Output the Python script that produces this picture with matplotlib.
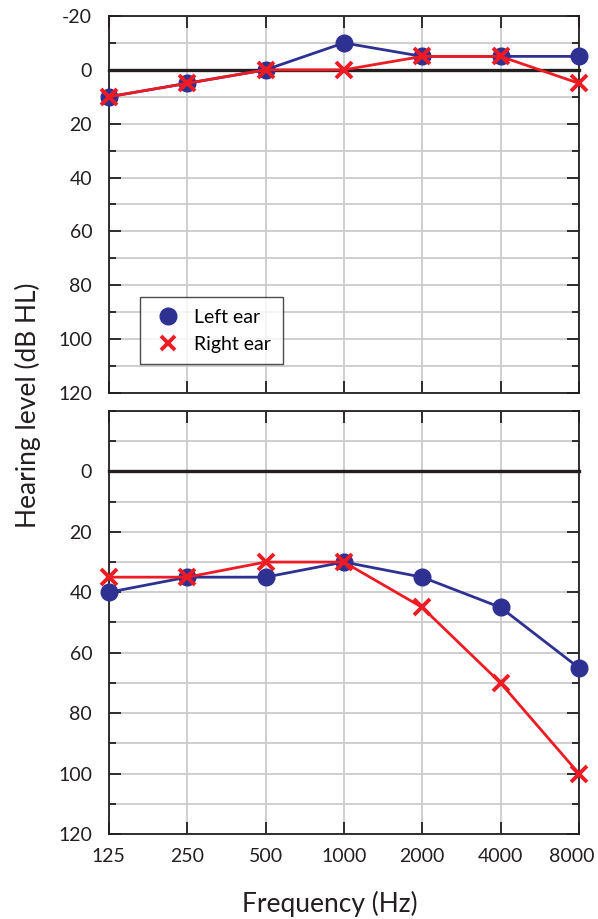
import numpy as np
import matplotlib.pyplot as plt
import matplotlib.transforms as mtransforms
from matplotlib.lines import Line2D
from matplotlib.ticker import MultipleLocator, NullLocator

plt.rcParams['font.family'] = ['Lato', 'DejaVu Sans']

freqs = [125, 250, 500, 1000, 2000, 4000, 8000]
freq_labels = ['125', '250', '500', '1000', '2000', '4000', '8000']

top_left = [10, 5, 0, -10, -5, -5, -5]
top_right = [10, 5, 0, 0, -5, -5, 5]
bottom_left = [40, 35, 35, 30, 35, 45, 65]
bottom_right = [35, 35, 30, 30, 45, 70, 100]

blue = '#2E3192'
red = '#ED1C24'
ink = '#231F20'

fig = plt.figure(figsize=(5.98, 9.19), dpi=100)
ax1 = fig.add_axes([0.182, 0.5724, 0.786, 0.4102])
ax2 = fig.add_axes([0.182, 0.0925, 0.786, 0.4603])


def style(ax, yticks):
    ax.set_xscale('log', base=2)
    ax.set_xlim(125, 8000)
    ax.set_ylim(120, -20)
    ax.xaxis.set_major_locator(plt.FixedLocator(freqs))
    ax.xaxis.set_minor_locator(NullLocator())
    ax.yaxis.set_minor_locator(MultipleLocator(10))
    ax.set_yticks(yticks)
    ax.set_yticklabels([str(v) for v in yticks])
    ax.grid(True, which='both', color='#cccccc', lw=1.3, zorder=0)
    ax.axhline(0, color=ink, lw=2.4, zorder=1)
    ax.tick_params(which='both', direction='in', top=True, right=True,
                   labelsize=14, colors=ink, width=1.3)
    ax.tick_params(which='major', length=8.5)
    ax.tick_params(which='minor', length=5)
    ax.tick_params(axis='y', which='major', pad=12)
    ax.tick_params(axis='x', which='major', pad=10)
    for s in ax.spines.values():
        s.set_linewidth(1.3)
        s.set_color(ink)
    ax.set_axisbelow(True)


style(ax1, [-20, 0, 20, 40, 60, 80, 100, 120])
ax1.set_xticklabels([])
ax1.plot(freqs, top_left, color=blue, lw=2, marker='o', ms=12, zorder=3)
ax1.plot(freqs, top_right, color=red, lw=2, marker='x', ms=11, mew=2.8,
         zorder=4)

handles = [
    Line2D([], [], ls='none', marker='o', ms=12, color=blue, label='Left ear'),
    Line2D([], [], ls='none', marker='x', ms=10, mew=2.8, color=red,
           label='Right ear'),
]
leg = ax1.legend(handles=handles, loc='upper left',
                 bbox_to_anchor=(0.066, 0.254), fontsize=14,
                 frameon=True, fancybox=False, edgecolor=ink,
                 borderpad=0.6, handletextpad=0.5, labelspacing=0.5,
                 handlelength=1.7, borderaxespad=0)
leg.get_frame().set_linewidth(1.0)
leg.set_zorder(5)

style(ax2, [0, 20, 40, 60, 80, 100, 120])
ax2.set_xticklabels(freq_labels)
ax2.plot(freqs, bottom_left, color=blue, lw=2, marker='o', ms=12, zorder=3)
ax2.plot(freqs, bottom_right, color=red, lw=2, marker='x', ms=11, mew=2.8,
         zorder=4)

# nudge the last frequency label left so it stays inside the figure
last = ax2.get_xticklabels()[-1]
last.set_transform(last.get_transform() +
                   mtransforms.ScaledTranslation(-5 / 72, 0, fig.dpi_scale_trans))

for ax in (ax1, ax2):
    for line in ax.lines:
        line.set_clip_on(False)

fig.text(0.552, 0.016, 'Frequency (Hz)', fontsize=19, color=ink,
         ha='center', va='center')
fig.text(0.047, 0.559, 'Hearing level (dB HL)', rotation=90, fontsize=19,
         color=ink, ha='center', va='center')

fig.savefig('out.png', dpi=100)
